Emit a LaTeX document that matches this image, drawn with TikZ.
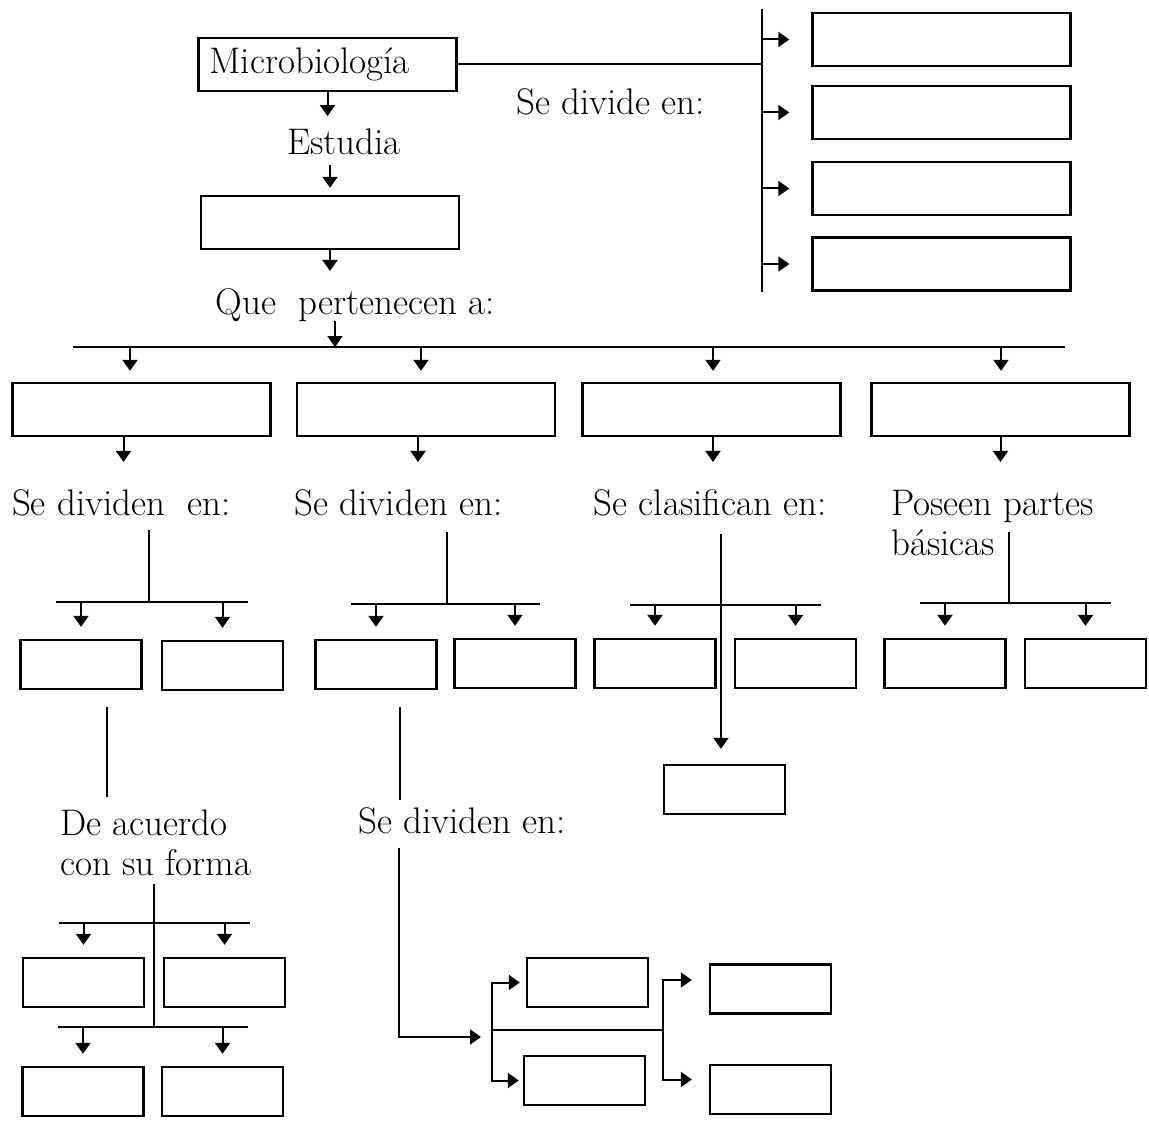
\documentclass[tikz,border=0pt]{standalone}
\usepackage{tikz}
\usetikzlibrary{arrows.meta}

\newcommand{\mapfont}{\fontsize{37}{40}\selectfont}

\begin{document}
\begin{tikzpicture}[
  x=1pt, y=-1pt,
  box/.style={draw, line width=2.4pt, inner sep=0pt, minimum width=121pt,
              minimum height=49pt},
  wide/.style={box, minimum width=258pt, minimum height=53pt},
  txt/.style={inner sep=0pt, font=\mapfont},
  ln/.style={line width=2pt},
  arr/.style={ln, -{Triangle[length=11pt, width=15pt]}},
  ]
  \useasboundingbox (0,0) rectangle (1149,1126);

  \node[wide, font=\mapfont, text width=236pt, align=left] (micro) at (327.5,64.5) {Microbiología};
  \node[txt, anchor=base] (divide) at (610.5,115) {Se divide en:};
  \node[txt, anchor=base] (est) at (344,155) {Estudia};
  \node[wide] (obj) at (330,222.5) {};
  \node[txt, anchor=base] (que) at (355.5,314) {Que~ pertenecen a:};

  \coordinate (vtop) at (762,9);
  \coordinate (vbot) at (762,292);
  \foreach \n/\y in {1/39.5, 2/112.5, 3/188.5, 4/264}
    \node[wide] (r\n) at (941.5,\y) {};

  \draw[ln] (micro.east) -- (micro.east -| vtop);
  \draw[ln] (vtop) -- (vbot);
  \foreach \n in {1,...,4}
    \draw[arr, shorten >=22pt] (r\n.west -| vtop) -- (r\n.west);

  \draw[arr, shorten >=13pt] (micro.south) -- (micro.south |- est.north);
  \draw[arr, shorten <=10pt, shorten >=7pt] (est.south -| obj.north) -- (obj.north);
  \draw[arr, shorten >=17pt] (obj.south) -- (obj.south |- que.north);

  % second level
  \coordinate (busL) at (73,347);
  \coordinate (busR) at (1065,347);
  \coordinate (t3) at (335,347);
  \draw[ln] (busL) -- (busR);
  \draw[arr] (que.south -| t3) -- (t3);

  \foreach \n/\x in {1/141.5, 2/426, 3/711.5, 4/1000.5}
    \node[wide] (g\n) at (\x,409.5) {};

  \node[txt, anchor=base] (l1) at (121.5,515) {Se dividen~ en:};
  \node[txt, anchor=base] (l2) at (398.5,515) {Se dividen en:};
  \node[txt, anchor=base] (l3) at (710,515) {Se clasifican en:};
  \node[txt, anchor=north west, align=left] (l4) at (891,489.7) {Poseen partes\\básicas};

  \foreach \n/\da/\db in {1/-11.5/-18, 2/-5/-8, 3/1.5/1.5, 4/0.5/0}{
    \path ([xshift=\da pt]g\n.north) coordinate (q\n);
    \path ([xshift=\db pt]g\n.south) coordinate (p\n);
    \draw[arr, shorten >=11pt] (q\n |- busL) -- (q\n);
    \draw[arr, shorten >=27pt] (p\n) -- (p\n |- l1.north);
  }

  % third level
  \node[box] (a1) at (81,664.5) {};
  \node[box] (a2) at (222.5,665.5) {};
  \node[box] (b1) at (376,664.5) {};
  \node[box] (b2) at (515,663.5) {};
  \node[box] (c1) at (655,663.5) {};
  \node[box] (c2) at (795.5,663.5) {};
  \node[box] (c3) at (724.5,789.5) {};
  \node[box] (d1) at (945,663.5) {};
  \node[box] (d2) at (1085.5,663.5) {};

  \coordinate (h1) at (149,602);
  \coordinate (h2) at (447,604);
  \coordinate (h3) at (721,605);
  \coordinate (h4) at (1009,603);
  \coordinate (v4) at (1009,532);

  \draw[ln, shorten <=14pt] (l1.south -| h1) -- (h1);
  \draw[ln, shorten <=16pt] (l2.south -| h2) -- (h2);
  \draw[arr, shorten <=18pt, shorten >=15pt] (l3.south -| h3) -- (h3 |- c3.north);
  \draw[ln] (v4) -- (h4);

  % lower left
  \coordinate (k1) at (107,797);
  \draw[ln, shorten <=17pt] (a1.south -| k1) -- (k1);
  \node[txt, anchor=north west, align=left] (l5) at (60,809.3) {De acuerdo\\con su forma};
  \coordinate (h5) at (154,923);
  \coordinate (h6) at (154,1027);
  \draw[ln, shorten <=8pt] (l5.south -| h6) -- (h6);

  \node[box] (f1) at (83.5,982.5) {};
  \node[box] (f2) at (224.5,982.5) {};
  \node[box] (f3) at (83,1091.5) {};
  \node[box] (f4) at (222.5,1091.5) {};

  \foreach \p/\q/\h in {a1/a2/h1, b1/b2/h2, c1/c2/h3, d1/d2/h4, f1/f2/h5, f3/f4/h6}{
    \draw[ln, shorten <=-25pt, shorten >=-25pt] (\p.north |- \h) -- (\q.north |- \h);
    \draw[arr, shorten >=12pt] (\p.north |- \h) -- (\p.north);
    \draw[arr, shorten >=12pt] (\q.north |- \h) -- (\q.north);
  }

  % lower middle
  \coordinate (k2) at (400,800);
  \draw[ln, shorten <=17pt] (b1.south -| k2) -- (k2);
  \node[txt, anchor=base] (l6) at (462,833) {Se dividen en:};
  \coordinate (k3) at (399,1037);
  \coordinate (t4) at (481,1037);
  \draw[arr, shorten <=14pt] (l6.south -| k3) -- (k3) -- (t4);

  \node[box] (s1) at (587.5,982.5) {};
  \node[box] (s2) at (584.5,1080.5) {};
  \node[box] (s3) at (770.5,989) {};
  \node[box] (s4) at (770.5,1089.5) {};

  \coordinate (j1) at (492,1030);
  \coordinate (j2) at (663,1030);
  \coordinate (e3) at ([yshift=9pt]s3.west);
  \coordinate (e4) at ([yshift=10pt]s4.west);
  \draw[ln] (j1) -- (j2);
  \draw[arr, shorten >=6pt] (j1) -- (j1 |- s1.west) -- (s1.west);
  \draw[arr, shorten >=4pt] (j1) -- (j1 |- s2.west) -- (s2.west);
  \draw[arr, shorten >=17pt] (j2) -- (j2 |- e3) -- (e3);
  \draw[arr, shorten >=17pt] (j2) -- (j2 |- e4) -- (e4);
\end{tikzpicture}
\end{document}
